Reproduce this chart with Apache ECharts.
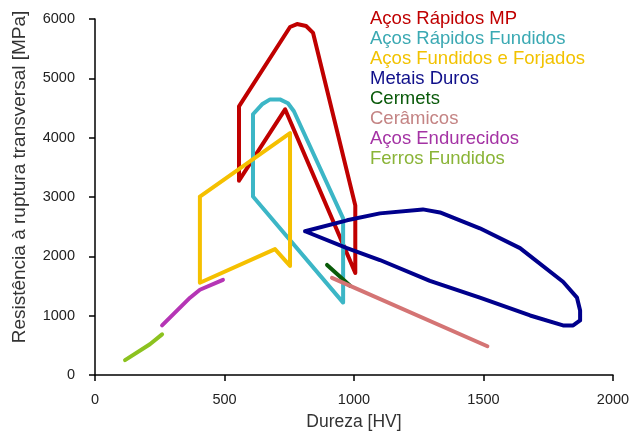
<!DOCTYPE html>
<html>
<head>
<meta charset="utf-8">
<script src="https://cdn.jsdelivr.net/npm/echarts@6/dist/echarts.min.js"></script>
<style>
  html, body { margin: 0; padding: 0; background: #fff; }
  #main { width: 633px; height: 436px; }
</style>
</head>
<body>
<div id="main"></div>
<script>
// [dureza HV, resistencia MPa] - contornos
const rapidosMP = [[556,3275],[556,4528],[753,5865],[780,5915],[815,5882],[842,5765],[1005,2857],[1005,1721],[734,4478],[556,3275]];
const rapidosFundidos = [[610,3008],[610,4395],[645,4562],[676,4645],[714,4645],[745,4579],[768,4445],[958,2640],[958,1220],[610,3008]];
const fundidosForjados = [[405,3008],[753,4077],[753,1838],[695,2122],[405,1554],[405,3008]];
const metaisDuros = [[811,2423],[973,2607],[1100,2724],[1266,2791],[1332,2740],[1486,2473],[1641,2139],[1807,1571],[1861,1303],[1873,1086],[1873,919],[1846,836],[1807,836],[1680,1003],[1486,1303],[1293,1587],[1100,1938],[973,2139],[811,2423]];
const cermets = [[896,1855],[985,1504]];
const ceramicos = [[915,1638],[1515,485]];
const acosEndurecidos = [[259,836],[367,1303],[405,1437],[494,1604]];
const ferrosFundidos = [[116,251],[212,518],[259,685]];

const names = ['Aços Rápidos MP','Aços Rápidos Fundidos','Aços Fundidos e Forjados','Metais Duros','Cermets','Cerâmicos','Aços Endurecidos','Ferros Fundidos'];
const lineColors = ['#c00000','#3cb6c6','#f5c000','#00008c','#0a5c0a','#d47474','#b535b5','#8cc21f'];
const textColors = ['#c00000','#3aa9b3','#f2c200','#10108a','#0a5a0a','#c48484','#a433a4','#8ab437'];
const seriesData = [rapidosMP, rapidosFundidos, fundidosForjados, metaisDuros, cermets, ceramicos, acosEndurecidos, ferrosFundidos];

const xTicks = { min: 0, max: 2000, interval: 500 };
const yTicks = { min: 0, max: 6000, interval: 1000 };

const font = 'Liberation Sans, Arial, sans-serif';
const chart = echarts.init(document.getElementById('main'));

chart.setOption({
    animation: false,
    grid: { left: 95, right: 20, top: 19, bottom: 58 },
    legend: {
        orient: 'vertical',
        left: 365,
        top: 9,
        padding: 0,
        icon: 'none',
        itemWidth: 0,
        itemHeight: 18,
        itemGap: 1,
        selectedMode: false,
        textStyle: { fontFamily: font, fontSize: 18.5 },
        data: names.map((n, i) => ({ name: n, textStyle: { color: textColors[i] } }))
    },
    xAxis: {
        type: 'value',
        min: xTicks.min, max: xTicks.max, interval: xTicks.interval,
        name: 'Dureza [HV]',
        nameLocation: 'middle',
        nameGap: 38,
        nameTextStyle: { fontFamily: font, fontSize: 17.5, color: '#333' },
        axisLine: { lineStyle: { color: '#000', width: 1.5 } },
        axisTick: { length: 6, lineStyle: { color: '#000', width: 1.5 } },
        axisLabel: { fontFamily: font, fontSize: 14.5, color: '#222', margin: 17, formatter: v => String(v) },
        splitLine: { show: false }
    },
    yAxis: {
        type: 'value',
        min: yTicks.min, max: yTicks.max, interval: yTicks.interval,
        name: 'Resistência à ruptura transversal [MPa]',
        nameLocation: 'middle',
        nameGap: 66,
        nameTextStyle: { fontFamily: font, fontSize: 19, color: '#333', padding: [0, 0, 0, 40] },
        axisLine: { show: true, lineStyle: { color: '#000', width: 1.5 } },
        axisTick: { show: true, length: 6, lineStyle: { color: '#000', width: 1.5 } },
        axisLabel: { fontFamily: font, fontSize: 14.5, color: '#222', margin: 20, formatter: v => String(v) },
        splitLine: { show: false }
    },
    series: seriesData.map((d, i) => ({
        name: names[i],
        type: 'line',
        data: d,
        showSymbol: false,
        symbol: 'none',
        color: lineColors[i],
        lineStyle: { width: 4, color: lineColors[i], join: 'round', cap: 'round' }
    }))
});
</script>
</body>
</html>
